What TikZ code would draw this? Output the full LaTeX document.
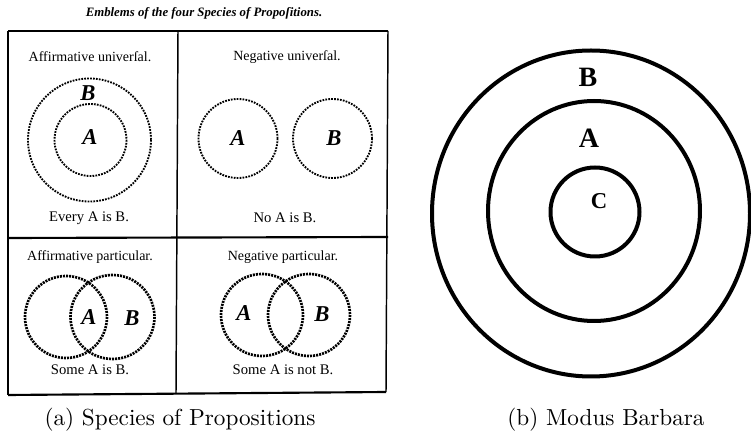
\documentclass[tikz,border=0pt]{standalone}
\usepackage{fontspec}
\usepackage{graphicx}
\newfontfamily\oldfont{Liberation Serif}
\begin{document}
\begin{tikzpicture}[x=0.75pt,y=-0.75pt,
  dotc/.style={draw=black, line width=1.4pt, dash pattern=on 1.3pt off 0.9pt},
  dotcb/.style={draw=black, line width=2pt, dash pattern=on 1.5pt off 0.8pt},
  thickc/.style={draw=black, line width=3pt},
  hd/.style={font=\oldfont\fontsize{10.5}{12}\selectfont, inner sep=0pt},
  ft/.style={font=\oldfont\fontsize{11}{12}\selectfont, inner sep=0pt},
  lt/.style={font=\oldfont\bfseries\itshape\fontsize{17}{18}\selectfont, inner sep=0pt},
  bl/.style={font=\oldfont\bfseries\fontsize{21}{22}\selectfont, inner sep=0pt},
  captext/.style={font=\fontsize{10}{12}\selectfont, inner sep=0pt}]
\useasboundingbox (0,0) rectangle (751,441);
% title
\node[font=\oldfont\bfseries\itshape\fontsize{9.6}{11}\selectfont, inner sep=0pt] (title) at (204,13) {Emblems of the four Species of Propoſitions.};
% frame
\draw[line width=1.6pt] (8,31) -- (388,31);
\draw[line width=1.1pt] (8,31) -- (8,395);
\draw[line width=1.1pt] (388,31) -- (386,392);
\draw[line width=1.6pt] (8,395) -- (386,392);
\draw[line width=1.1pt] (178,31) -- (176,393);
\draw[line width=1.6pt] (8,238) -- (388,237);
% cell 1
\node[hd] (h1) at (90,57) {Affirmative univerſal.};
\draw[dotc] (89.5,140) circle (61.5);
\draw[dotc] (90.5,140) circle (36);
\node[lt] (b1) at (88,93) {B};
\node[lt] (a1) at (90,137) {A};
\node[ft] (f1) at (89,218) {Every A is B.};
% cell 2
\node[hd] (h2) at (287,57) {Negative univerſal.};
\draw[dotc] (238,138.5) circle (39.5);
\draw[dotc] (332.5,138.5) circle (39.5);
\node[lt] (a2) at (238,138) {A};
\node[lt] (b2) at (334,138) {B};
\node[ft] (f2) at (285,218) {No A is B.};
% cell 3
\node[hd] (h3) at (90,257) {Affirmative particular.};
\draw[dotcb] (66,317) circle (41);
\draw[dotcb] (112.5,317) circle (42);
\node[lt] (a3) at (89,317) {A};
\node[lt] (b3) at (132,318) {B};
\node[ft] (f3) at (90,370) {Some A is B.};
% cell 4
\node[hd] (h4) at (283,257) {Negative particular.};
\draw[dotcb] (262,315) circle (41);
\draw[dotcb] (309,315) circle (41);
\node[lt] (a4) at (244,313) {A};
\node[lt] (b4) at (322,314) {B};
\node[ft] (f4) at (283,370) {Some A is not B.};
% right panel
\draw[thickc] (591,213.5) circle [x radius=159, y radius=163];
\draw[thickc] (594,211) circle [x radius=106, y radius=110];
\draw[thickc] (595,212) circle (44.5);
\node[bl] (bb) at (588,77) {B};
\node[bl] (ab) at (589,138) {A};
\node[font=\oldfont\bfseries\fontsize{17}{18}\selectfont, inner sep=0pt] (cb) at (599,201) {C};
% captions
\node[captext] (ca) at (180,420) {\scalebox{1.74}{(a) Species of Propositions}};
\node[captext] (cb2) at (606,420) {\scalebox{1.74}{(b) Modus Barbara}};
\end{tikzpicture}
\end{document}
